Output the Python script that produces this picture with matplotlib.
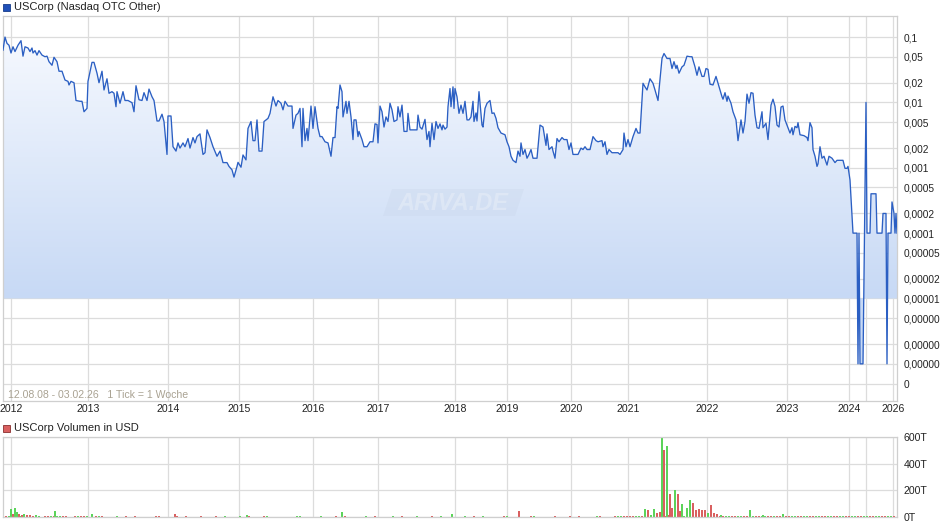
import numpy as np
import matplotlib.pyplot as plt
from matplotlib.colors import LinearSegmentedColormap
from matplotlib.patches import Polygon, Rectangle

plt.rcParams['font.family'] = ['Liberation Sans', 'DejaVu Sans']

# price line, (tick index, price in USD)
seg_2012 = [(0, 0.063), (2, 0.10), (4, 0.08), (6, 0.075), (8, 0.057), (10, 0.071), (12, 0.060),
            (15, 0.075), (18, 0.088), (20, 0.051), (22, 0.071), (25, 0.068), (27, 0.060), (29, 0.068),
            (30, 0.057), (32, 0.062), (34, 0.053), (36, 0.062), (39, 0.053), (42, 0.050), (44, 0.051),
            (46, 0.042), (49, 0.037), (51, 0.049), (54, 0.042), (56, 0.030), (59, 0.030), (62, 0.022),
            (65, 0.021), (66, 0.0185), (68, 0.021), (71, 0.020), (73, 0.0107), (77, 0.0104), (79, 0.0104),
            (81, 0.0072), (84, 0.0081), (85, 0.021), (89, 0.041), (91, 0.041), (94, 0.028), (96, 0.020),
            (99, 0.030), (101, 0.0155), (104, 0.023), (106, 0.0138), (109, 0.0146), (111, 0.0138),
            (113, 0.0086), (114, 0.0146), (117, 0.0097), (120, 0.0146), (122, 0.0107), (125, 0.0107),
            (129, 0.0099), (131, 0.0072), (133, 0.018), (136, 0.011), (139, 0.0107), (141, 0.0141),
            (144, 0.0107), (146, 0.016), (149, 0.0122), (151, 0.0107), (154, 0.0052), (156, 0.0052),
            (159, 0.0066), (161, 0.0051), (164, 0.0016), (165, 0.0062), (168, 0.0062), (170, 0.0021),
            (173, 0.0018), (175, 0.0024), (177, 0.0020), (180, 0.0024), (182, 0.0021), (185, 0.0028),
            (187, 0.0020), (190, 0.0029), (192, 0.0024), (194, 0.0030), (197, 0.0033), (200, 0.0016),
            (202, 0.0017), (204, 0.0038), (207, 0.0029), (210, 0.0021), (214, 0.0015), (217, 0.0018),
            (220, 0.0012), (224, 0.0012), (226, 0.00105)]
seg_2015 = [(229, 0.00093), (231, 0.00072), (234, 0.00105), (235, 0.00121), (238, 0.00102),
            (240, 0.00157), (243, 0.00132), (245, 0.0040), (248, 0.0051), (250, 0.0026), (252, 0.0026),
            (254, 0.0054), (256, 0.0018), (259, 0.0018), (261, 0.0051), (265, 0.0057), (267, 0.0068),
            (270, 0.0122), (273, 0.0088), (275, 0.0107), (278, 0.0097), (280, 0.0077), (282, 0.0104),
            (285, 0.0088), (289, 0.0088), (290, 0.0040), (293, 0.0064), (295, 0.0068), (297, 0.0081),
            (299, 0.0021), (300, 0.0081), (302, 0.0026), (304, 0.0040), (305, 0.0026), (308, 0.0088),
            (310, 0.0040), (312, 0.0086), (315, 0.0040), (317, 0.0030), (319, 0.0030), (322, 0.0025),
            (325, 0.0024), (328, 0.0015), (330, 0.0029), (332, 0.0029), (334, 0.0086), (335, 0.0081),
            (337, 0.0185), (339, 0.0146), (340, 0.0060), (343, 0.0104), (344, 0.0068), (346, 0.0104),
            (348, 0.0060), (350, 0.0027), (351, 0.0054), (353, 0.0054), (355, 0.0030), (356, 0.0036),
            (359, 0.0027), (361, 0.0021), (364, 0.0021), (367, 0.0025), (370, 0.0025), (372, 0.0047),
            (374, 0.0046), (375, 0.0024), (377, 0.0088), (379, 0.0072), (381, 0.0042), (383, 0.0060),
            (385, 0.0051), (387, 0.0097), (389, 0.0077), (391, 0.0051), (394, 0.0054), (395, 0.0086),
            (397, 0.0060), (399, 0.0091), (401, 0.0036), (404, 0.0036), (405, 0.0068), (407, 0.0038),
            (410, 0.0038), (414, 0.0038), (415, 0.0064), (417, 0.0042), (419, 0.0039), (422, 0.0055),
            (424, 0.0027), (426, 0.0036), (427, 0.0021), (429, 0.0048), (431, 0.0027), (433, 0.0051),
            (435, 0.0040), (437, 0.0047), (439, 0.0038), (440, 0.0045), (442, 0.0039), (444, 0.0042),
            (445, 0.0086)]
seg_2018 = [(447, 0.0163), (448, 0.0086), (450, 0.0173), (451, 0.0081), (452, 0.0163), (454, 0.0122),
            (456, 0.0068), (458, 0.0091), (460, 0.0068), (462, 0.0104), (464, 0.0054), (466, 0.0054),
            (468, 0.0060), (470, 0.0104), (471, 0.0051), (473, 0.0069), (474, 0.0052), (476, 0.0146),
            (479, 0.0045), (480, 0.0042), (482, 0.0081), (484, 0.0097), (487, 0.0107), (489, 0.0068),
            (491, 0.0069), (493, 0.0057), (495, 0.0041), (498, 0.0034), (502, 0.0032), (504, 0.0025),
            (506, 0.0021), (508, 0.0015), (510, 0.0013), (513, 0.0012), (515, 0.0018), (517, 0.0015),
            (518, 0.0024), (520, 0.0016), (522, 0.0019), (524, 0.0014), (526, 0.0016), (528, 0.0019),
            (530, 0.0014), (534, 0.0014), (537, 0.0045), (540, 0.0042), (543, 0.0022), (544, 0.0033),
            (546, 0.0019), (549, 0.0021), (550, 0.0018), (552, 0.0014), (554, 0.0028), (556, 0.0025),
            (559, 0.0029), (561, 0.0027), (564, 0.0027), (566, 0.0019), (568, 0.0024), (570, 0.0016),
            (573, 0.0016), (575, 0.0016), (578, 0.0020), (580, 0.0019), (582, 0.0021), (584, 0.0019),
            (587, 0.0019), (590, 0.0030), (593, 0.0026), (595, 0.0025), (599, 0.0026), (600, 0.0021),
            (602, 0.0025), (604, 0.0016), (606, 0.0019), (609, 0.0017), (612, 0.0017), (615, 0.0017),
            (617, 0.0016)]
seg_2021 = [(620, 0.0019), (621, 0.0034), (623, 0.0021), (625, 0.0027), (627, 0.0021), (630, 0.0030),
            (633, 0.0040), (635, 0.0034), (637, 0.0034), (640, 0.0196), (642, 0.0173), (644, 0.0155),
            (647, 0.023), (650, 0.0196), (652, 0.0155), (655, 0.0107), (659, 0.047), (661, 0.056),
            (664, 0.047), (667, 0.047), (669, 0.033), (671, 0.042), (673, 0.033), (674, 0.037),
            (676, 0.028), (679, 0.035), (681, 0.037), (684, 0.051), (687, 0.050), (689, 0.050),
            (692, 0.035), (694, 0.026), (696, 0.035), (699, 0.025), (701, 0.025), (703, 0.033),
            (705, 0.032), (707, 0.019), (710, 0.0185), (713, 0.025), (715, 0.0196), (719, 0.0122),
            (720, 0.0112), (722, 0.0141), (724, 0.0104), (725, 0.0125), (728, 0.0097), (730, 0.0072),
            (733, 0.0054), (735, 0.0026), (738, 0.0054), (740, 0.0034), (742, 0.0051), (744, 0.0134),
            (746, 0.0097), (748, 0.0141), (750, 0.0138), (752, 0.0064), (754, 0.0041), (756, 0.0040),
            (759, 0.0072), (760, 0.0041), (763, 0.0048), (765, 0.0027), (768, 0.0091), (770, 0.0112),
            (772, 0.0087), (774, 0.0045), (776, 0.0042), (778, 0.0085), (780, 0.0088), (782, 0.0054),
            (784, 0.0045), (785, 0.0041), (787, 0.0034), (789, 0.0041), (790, 0.0032), (792, 0.0043),
            (794, 0.0041), (795, 0.0049), (797, 0.0032), (801, 0.0031), (804, 0.0029), (805, 0.0026),
            (807, 0.0049), (809, 0.0041), (810, 0.0019), (812, 0.0015), (814, 0.00105), (815, 0.00115),
            (817, 0.0021), (819, 0.0014), (821, 0.0015), (824, 0.0011), (826, 0.0015), (829, 0.0014),
            (832, 0.0012), (834, 0.0013), (837, 0.0013), (840, 0.0013), (842, 0.00098), (844, 0.00098),
            (845, 0.00105)]
seg_2024 = [(847, 0.00065), (850, 0.0001), (854, 0.0001), (855, 1e-6), (856, 0.0001), (857, 1e-6),
            (860, 1e-6), (863, 0.01), (864, 0.0001), (867, 0.0001), (868, 0.0004), (873, 0.0004),
            (874, 0.0001), (879, 0.0001), (880, 0.0002), (883, 0.0002), (884, 1e-6), (885, 0.0001),
            (888, 0.0001), (889, 0.0003), (891, 0.0002), (892, 0.0001), (893, 0.0002), (894, 0.0001)]

year_pos = [8, 85, 165, 236, 310, 375, 452, 504, 568, 625, 704, 784, 846, 863, 890]
year_lab = ['2012', '2013', '2014', '2015', '2016', '2017', '2018', '2019', '2020',
            '2021', '2022', '2023', '2024', '', '2026']

# the chart's right edge cuts the three smallest labels to "0,00000"
price_ticks = [0.1, 0.05, 0.02, 0.01, 0.005, 0.002, 0.001, 0.0005, 0.0002, 0.0001,
               0.00005, 0.00002, 0.00001, 0.000005, 0.000002, 0.000001, 0.0000005]
price_lab = ['0,1', '0,05', '0,02', '0,01', '0,005', '0,002', '0,001', '0,0005', '0,0002', '0,0001',
             '0,00005', '0,00002', '0,00001', '0,00000', '0,00000', '0,00000', '0']

# volume in thousand USD: small weekly bars (two interleaved runs), then the bigger ones
vol_small = [9, 7, 5, 11, 8, 6, 4, 7, 5, 8, 4, 3, 6, 4, 5, 3, 7,
             3, 2, 4, 3, 2, 5, 3, 2, 3, 4, 2, 3, 5, 2, 3, 2, 4, 3, 2, 3,
             4, 2, 3, 2, 5, 3, 2, 4, 3, 2, 3, 2, 4, 3, 2, 3, 5, 2, 3, 2,
             4, 3, 2, 3, 2, 4, 3, 2, 5, 3, 2, 3, 4, 2, 3, 2, 4, 3, 2, 3,
             5, 2, 3, 4, 2, 3, 2, 4, 3, 2, 3, 5, 2, 3, 2, 4, 3, 2, 3, 4,
             2, 3, 5, 3, 2, 4, 6, 5, 8, 7,
             12, 15, 10, 14, 18, 12, 16, 14, 11, 13, 9, 12, 8, 10, 7, 9, 11, 8, 7, 10,
             9, 6, 8, 7, 9, 6, 8, 5, 7, 6, 8, 5, 6, 7, 5, 6, 4, 5, 6, 4, 5, 6]
vol_small_dir = ("ggrgrrgrggrgrrgrggrggrrgrgrgrrgggrrgrgrgrrgrgggrrgrgrgrrgrgg"
                 "rgrrggrgrgrgrgrrgggrgrgrgrrgrggrrgrgrgrgrgrgrrgrgrgrgrggrrgr"
                 "rgrgrgrgrrgrgrgrgrgrgrgrgrgrg")
vol_small2 = [6, 10, 4, 8, 5, 9, 3, 6, 4, 5, 7, 3, 4, 6, 3, 5, 4,
              2, 3, 2, 4, 2, 3, 3, 2, 4, 2, 3, 2, 3, 4, 2, 3, 2, 2, 4, 3,
              2, 3, 4, 2, 2, 3, 4, 2, 3, 2, 2, 3, 4, 2, 3, 2, 3, 2, 4, 3,
              2, 2, 3, 4, 2, 3, 2, 3, 2, 4, 3, 2, 2, 3, 4, 2, 3, 2, 3, 2,
              3, 4, 2, 2, 3, 2, 4, 2, 3, 3, 2, 4, 2, 3, 2, 3, 2, 4, 2, 3,
              3, 2, 4, 2, 3, 5, 4, 6, 7, 9,
              10, 13, 16, 11, 12, 14, 10, 13, 9, 11, 12, 8, 10, 9, 8, 7, 10, 9, 6, 8,
              7, 8, 6, 9, 5, 7, 6, 7, 5, 8, 6, 5, 7, 4, 6, 5, 5, 4, 6, 5, 4, 5]
vol_small2_dir = ("rgrggrgrrgrggrgrrgrgrggrgrrgrgrggrgrrgrggrgrgrrgrgrggrgrrgrg"
                  "grgrrgrgrggrgrgrrgrgrgrrgrgrgrgrggrgrrgrgrgrrgrgrgrgrgrgrggr"
                  "grgrgrgrgrrgrgrgrgrgrgrgrgrgr")
vol_big = [(8, 60, 'g'), (10, 20, 'r'), (12, 70, 'g'), (14, 40, 'g'), (16, 22, 'r'), (19, 16, 'r'),
           (21, 26, 'g'), (24, 18, 'r'), (27, 12, 'r'), (33, 14, 'g'), (52, 42, 'g'), (89, 25, 'g'),
           (172, 22, 'r'), (244, 18, 'g'), (339, 36, 'g'), (449, 22, 'g'), (516, 45, 'r'),
           (642, 60, 'g'), (645, 50, 'r'), (651, 60, 'g'), (654, 30, 'r'), (657, 38, 'r'),
           (659, 600, 'g'), (661, 500, 'r'), (664, 535, 'g'), (667, 172, 'r'), (669, 70, 'r'),
           (672, 200, 'g'), (675, 170, 'r'), (677, 45, 'r'), (679, 100, 'g'), (684, 70, 'g'),
           (687, 130, 'g'), (690, 105, 'r'), (693, 50, 'r'), (696, 62, 'r'), (699, 55, 'r'),
           (702, 55, 'r'), (705, 30, 'g'), (708, 88, 'r'), (711, 30, 'r'), (714, 20, 'r'),
           (718, 15, 'g'), (747, 55, 'g'), (760, 18, 'g'), (780, 25, 'g')]

pts = sorted(seg_2012 + seg_2015 + seg_2018 + seg_2021 + seg_2024, key=lambda p: p[0])
week = np.array([p[0] for p in pts], dtype=float)
price = np.array([p[1] for p in pts])

W, H = 940, 526
fig = plt.figure(figsize=(W / 100, H / 100), dpi=100)
ax = fig.add_axes([3 / W, 1 - 401 / H, 894 / W, 385 / H])
axv = fig.add_axes([3 / W, 1 - 517 / H, 894 / W, 80 / H])

grid_c = '#dcdcdc'
ax.set_yscale('log')
ax.set_xlim(0, 894)
ax.set_ylim(2.7e-7, 0.21)
ax.set_autoscale_on(False)

# gradient area under the line (down to 0.00001)
poly = ax.fill_between(week, price, 1e-5, color='none', lw=0)
base_frac = (401 - 298) / 385
yy = np.linspace(1, 0, 400)
grad = np.clip((1 - yy) / (1 - base_frac), 0, 1).reshape(-1, 1)
cmap = LinearSegmentedColormap.from_list('fillg', ['#f9fbff', '#c7d9f5'])
img = ax.imshow(grad, cmap=cmap, extent=[0, 1, 0, 1], transform=ax.transAxes,
                aspect='auto', origin='upper', zorder=1, interpolation='bilinear')
img.set_clip_path(poly.get_paths()[0], transform=ax.transData)

ax.plot(week, price, color='#2b5fc3', lw=0.95, zorder=4)

ax.set_yticks(price_ticks)
ax.set_yticklabels(price_lab)
ax.yaxis.set_minor_locator(plt.NullLocator())
ax.yaxis.tick_right()
ax.set_xticks(year_pos)
ax.set_xticklabels(year_lab)
ax.tick_params(axis='y', length=0, pad=4.5, labelsize=7.3, colors='#222222')
ax.tick_params(axis='x', length=0, pad=2.5, labelsize=7.6, colors='#222222')
ax.grid(True, color=grid_c, lw=0.9, zorder=0)
ax.set_axisbelow(True)
for s in ax.spines.values():
    s.set_color('#cfcfcf')
    s.set_linewidth(0.9)

ax.text(5 / 894, (401 - 395) / 385, '12.08.08 - 03.02.26   1 Tick = 1 Woche', transform=ax.transAxes,
        fontsize=7.6, color='#a9a292', va='center', ha='left', zorder=5)

# ARIVA.DE watermark, kept faint
wx = lambda px: (px - 3) / 894
wy = lambda py: (401 - py) / 385
ax.add_patch(Polygon([(wx(383), wy(216)), (wx(515), wy(216)), (wx(524), wy(189)), (wx(392), wy(189))],
                     closed=True, transform=ax.transAxes, facecolor='#cad7ec', alpha=0.35,
                     edgecolor='none', zorder=2))
ax.text(wx(453), wy(203), 'ARIVA.DE', transform=ax.transAxes, fontsize=17, fontstyle='italic',
        fontweight='bold', color='#e6edf8', alpha=0.6, ha='center', va='center', zorder=2)

# volume panel
up_c, dn_c = '#5cd35a', '#d96060'
small_x = np.arange(0, 894, 6)[:len(vol_small)]
for x, v, d in zip(small_x, vol_small, vol_small_dir):
    axv.bar(x, v, width=1.2, color=up_c if d == 'g' else dn_c, lw=0)
small_x2 = np.arange(3, 894, 6)[:len(vol_small2)]
for x, v, d in zip(small_x2, vol_small2, vol_small2_dir):
    axv.bar(x, v, width=1.2, color=up_c if d == 'g' else dn_c, lw=0)
for x, v, d in vol_big:
    axv.bar(x, v, width=1.2, color=up_c if d == 'g' else dn_c, lw=0)
axv.set_xlim(0, 894)
axv.set_ylim(0, 600)
axv.set_yticks([0, 200, 400, 600])
axv.set_yticklabels(['0T', '200T', '400T', '600T'])
axv.yaxis.tick_right()
axv.set_xticks(year_pos)
axv.set_xticklabels([])
axv.tick_params(axis='y', length=0, pad=4.5, labelsize=7.6, colors='#222222')
axv.tick_params(axis='x', length=0)
axv.grid(True, color=grid_c, lw=0.9, zorder=0)
axv.set_axisbelow(True)
for s in axv.spines.values():
    s.set_color('#cfcfcf')
    s.set_linewidth(0.9)

# legend headers
fig.patches.append(Rectangle((3 / W, 1 - 11 / H), 7 / W, 7 / H, transform=fig.transFigure,
                             facecolor='#1f50b8', edgecolor='#173c8a', lw=0.6))
fig.text(14 / W, 1 - 7 / H, 'USCorp (Nasdaq OTC Other)', fontsize=8, color='#222222', va='center')
fig.patches.append(Rectangle((3 / W, 1 - 432 / H), 7 / W, 7 / H, transform=fig.transFigure,
                             facecolor='#d96060', edgecolor='#8a2f2f', lw=0.6))
fig.text(14 / W, 1 - 428 / H, 'USCorp Volumen in USD', fontsize=8, color='#222222', va='center')

fig.savefig('out.png', dpi=100)
